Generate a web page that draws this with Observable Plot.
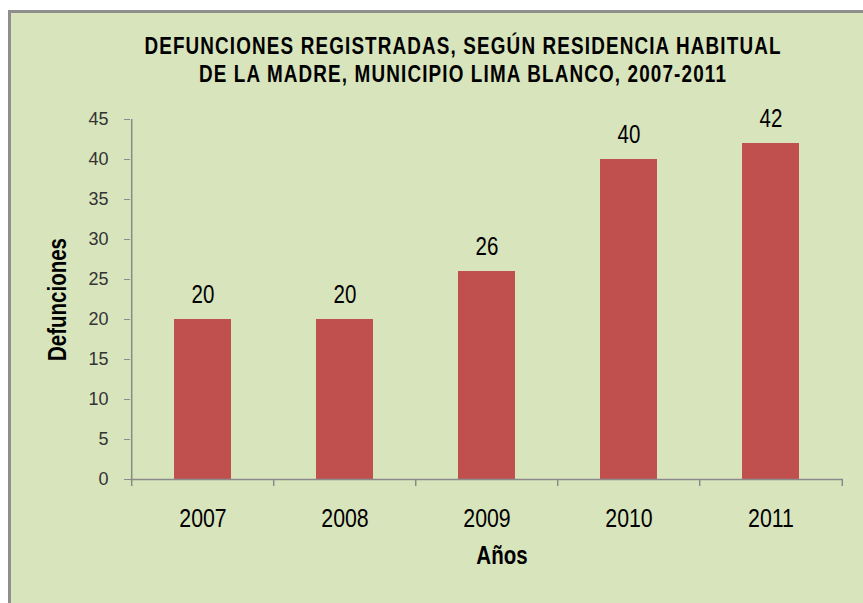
<!DOCTYPE html>
<html>
<head>
<meta charset="utf-8">
<script src="https://cdn.jsdelivr.net/npm/d3@7"></script>
<script src="https://cdn.jsdelivr.net/npm/@observablehq/plot@0.6"></script>
<style>
  html, body { margin: 0; padding: 0; background: #ffffff; }
  #wrap { position: relative; width: 863px; height: 603px; overflow: hidden; background: #ffffff; }
  #frame { position: absolute; left: 8px; top: 10px; width: 900px; height: 700px;
           background: #d8e4bc; border: 3px solid #8e8e8e; box-sizing: border-box; }
  #title { position: absolute; left: 0; top: 32px; width: 926px; text-align: center;
           font-family: "Liberation Sans", Arial, sans-serif;
           font-weight: bold; font-size: 23px; line-height: 28px; color: #000;
           letter-spacing: 1.4px;
           transform: scaleX(0.82); transform-origin: 463px 0; }
  #chart { position: absolute; left: 0; top: 95px; }
</style>
</head>
<body>
<div id="wrap">
  <div id="frame"></div>
  <div id="title">DEFUNCIONES REGISTRADAS, SEGÚN RESIDENCIA HABITUAL<br>DE LA MADRE, MUNICIPIO LIMA BLANCO, 2007-2011</div>
  <div id="chart"></div>
</div>
<script>
const years = ["2007", "2008", "2009", "2010", "2011"];
const deaths = [20, 20, 26, 40, 42];
const yTicks = [0, 5, 10, 15, 20, 25, 30, 35, 40, 45];
const yLabel = "Defunciones";
const xLabel = "Años";

const data = years.map((y, i) => ({year: y, value: deaths[i]}));

const W = 863, H = 508, ML = 130, MR = 20, MT = 24, MB = 124;
const step = (W - ML - MR) / years.length;
const axisGray = "#8a8a8a";

const chart = Plot.plot({
  width: W,
  height: H,
  marginLeft: ML,
  marginRight: MR,
  marginTop: MT,
  marginBottom: MB,
  style: {background: "transparent", fontFamily: "'Liberation Sans', Arial, sans-serif"},
  x: {domain: years, paddingInner: 0.6, paddingOuter: 0.3, axis: null},
  y: {domain: [0, 45], axis: null},
  marks: [
    Plot.barY(data, {x: "year", y: "value", fill: "#c0504d"}),
    Plot.ruleY([0], {stroke: axisGray, strokeWidth: 1.5}),
    Plot.ruleX([years[0]], {y1: 0, y2: 45, dx: -step / 2, stroke: axisGray, strokeWidth: 1.5}),
    Plot.ruleX(years, {x: d => d, y1: 0, y2: 0, insetBottom: -7, dx: -step / 2, stroke: axisGray, strokeWidth: 1.5}),
    Plot.ruleX([years[years.length - 1]], {y1: 0, y2: 0, insetBottom: -7, dx: step / 2, stroke: axisGray, strokeWidth: 1.5}),
    Plot.axisY({ticks: yTicks, tickSize: 6, tickPadding: 16, fontSize: 18, stroke: axisGray, fill: "#333", label: null}),
    Plot.axisX({tickSize: 0, tickPadding: 29, fontSize: 26, fill: "#000", label: null}),
    Plot.text(data, {x: "year", y: "value", text: d => String(d.value), dy: -25, fontSize: 25, fill: "#000"}),
    Plot.text([yLabel], {frameAnchor: "left", textAnchor: "middle", lineAnchor: "middle", rotate: -90, dx: -73, fontSize: 25, fontWeight: "bold", fill: "#000"}),
    Plot.text([xLabel], {frameAnchor: "bottom", textAnchor: "middle", lineAnchor: "middle", dx: 15, dy: 76, fontSize: 25, fontWeight: "bold", fill: "#000"})
  ]
});

// Emulate a narrow (condensed) face: squeeze glyphs horizontally around each text's anchor,
// for every text except the y-axis tick labels (which use the regular width face).
chart.querySelectorAll("text").forEach(t => {
  const g = t.closest("g[aria-label]");
  if (g && g.getAttribute("aria-label") === "y-axis tick label") return;
  const tr = t.getAttribute("transform") || "";
  t.setAttribute("transform", tr + " scale(0.82,1)");
});

document.getElementById("chart").appendChild(chart);
</script>
</body>
</html>
